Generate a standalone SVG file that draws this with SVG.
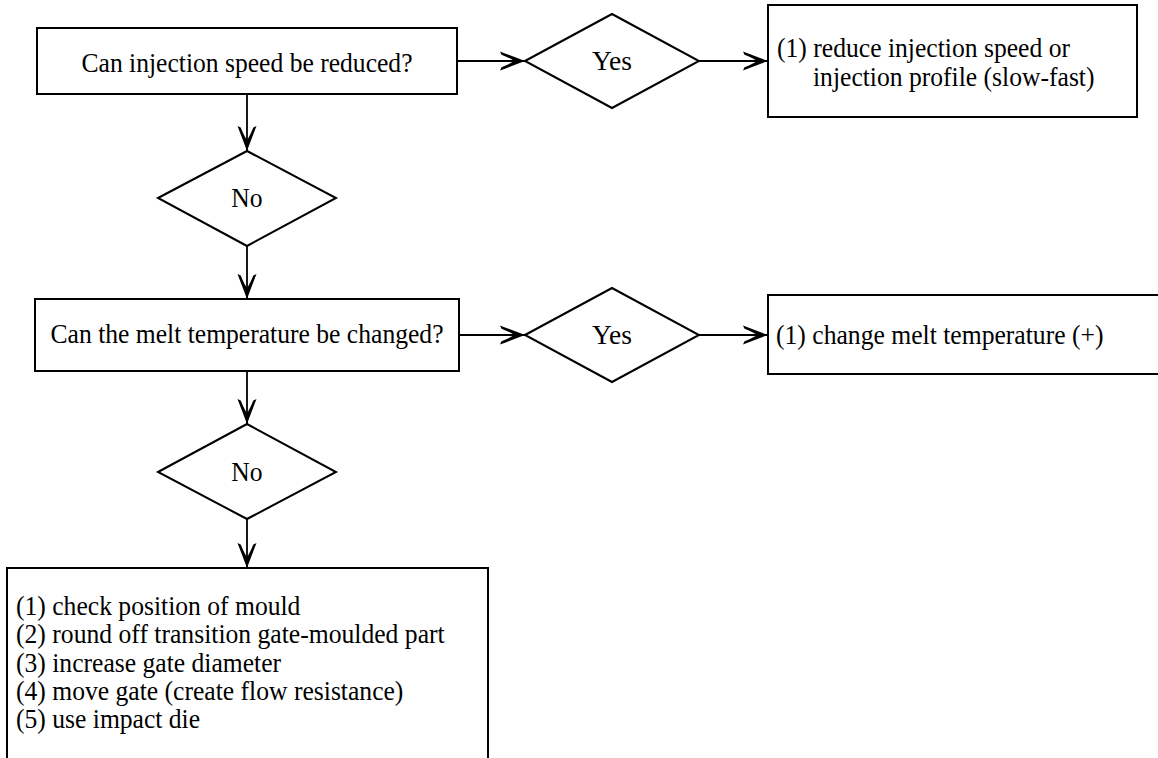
<svg xmlns="http://www.w3.org/2000/svg" width="1158" height="758" viewBox="0 0 1158 758">
  <defs>
    <marker id="arrow" markerUnits="userSpaceOnUse" markerWidth="30" markerHeight="24" viewBox="-27 -12 30 24" refX="0" refY="0" orient="auto">
      <path d="M0,0 Q-12,-4.5 -25,-9.5 L-23.5,-6.3 Q-14,-2.4 -11,0 Q-14,2.4 -23.5,6.3 L-25,9.5 Q-12,4.5 0,0 Z" fill="#000"/>
    </marker>
    <style>
      .box { fill: #fff; stroke: #000; stroke-width: 2; }
      .dia { fill: #fff; stroke: #000; stroke-width: 2; }
      .lbl { font-family: "Liberation Serif", "Times New Roman", serif; font-size: 27px; fill: #000; }
      .mid { text-anchor: middle; }
      .conn line { stroke: #000; stroke-width: 1.8; fill: none; marker-end: url(#arrow); }
    </style>
  </defs>
  <rect width="1158" height="758" fill="#fff"/>

  <!-- connectors -->
  <g id="connectors" class="conn">
    <line x1="247" y1="95" x2="247" y2="151"/>
    <line x1="247" y1="246" x2="247" y2="299"/>
    <line x1="247" y1="372" x2="247" y2="424"/>
    <line x1="247" y1="519" x2="247" y2="568"/>
    <line x1="458" y1="61" x2="525" y2="61"/>
    <line x1="699" y1="61" x2="768" y2="61"/>
    <line x1="460" y1="335" x2="525" y2="335"/>
    <line x1="699" y1="335" x2="768" y2="335"/>
  </g>

  <!-- question 1 -->
  <g id="q-speed">
    <rect class="box" x="37" y="28" width="420" height="66"/>
    <text class="lbl mid" x="247" y="72" textLength="331" lengthAdjust="spacingAndGlyphs">Can injection speed be reduced?</text>
  </g>
  <g id="yes-speed">
    <polygon class="dia" points="525,61 612,14 699,61 612,108"/>
    <text class="lbl mid" x="612" y="70" textLength="40" lengthAdjust="spacingAndGlyphs">Yes</text>
  </g>
  <g id="act-speed">
    <rect class="box" x="768" y="5" width="369" height="112"/>
    <text class="lbl" x="777" y="57" textLength="293" lengthAdjust="spacingAndGlyphs">(1) reduce injection speed or</text>
    <text class="lbl" x="813" y="86" textLength="281.5" lengthAdjust="spacingAndGlyphs">injection profile (slow-fast)</text>
  </g>
  <g id="no-speed">
    <polygon class="dia" points="158,198 247,151 336,198 247,246"/>
    <text class="lbl mid" x="247" y="207" textLength="31.3" lengthAdjust="spacingAndGlyphs">No</text>
  </g>

  <!-- question 2 -->
  <g id="q-temp">
    <rect class="box" x="35" y="299" width="424" height="72"/>
    <text class="lbl mid" x="247" y="343" textLength="393" lengthAdjust="spacingAndGlyphs">Can the melt temperature be changed?</text>
  </g>
  <g id="yes-temp">
    <polygon class="dia" points="525,335 612,288 699,335 612,382"/>
    <text class="lbl mid" x="612" y="344" textLength="40" lengthAdjust="spacingAndGlyphs">Yes</text>
  </g>
  <g id="act-temp">
    <rect class="box" x="768" y="295" width="400" height="79"/>
    <text class="lbl" x="776" y="344" textLength="327.5" lengthAdjust="spacingAndGlyphs">(1) change melt temperature (+)</text>
  </g>
  <g id="no-temp">
    <polygon class="dia" points="158,472 247,424 336,472 247,519"/>
    <text class="lbl mid" x="247" y="481" textLength="31.3" lengthAdjust="spacingAndGlyphs">No</text>
  </g>

  <!-- remaining measures -->
  <g id="act-mould">
    <rect class="box" x="7" y="568" width="481" height="200"/>
    <text class="lbl" x="16" y="615" textLength="284.4" lengthAdjust="spacingAndGlyphs">(1) check position of mould</text>
    <text class="lbl" x="16" y="643" textLength="428.7" lengthAdjust="spacingAndGlyphs">(2) round off transition gate-moulded part</text>
    <text class="lbl" x="16" y="672" textLength="265.1" lengthAdjust="spacingAndGlyphs">(3) increase gate diameter</text>
    <text class="lbl" x="16" y="700" textLength="387.4" lengthAdjust="spacingAndGlyphs">(4) move gate (create flow resistance)</text>
    <text class="lbl" x="16" y="728" textLength="184.1" lengthAdjust="spacingAndGlyphs">(5) use impact die</text>
  </g>
</svg>
